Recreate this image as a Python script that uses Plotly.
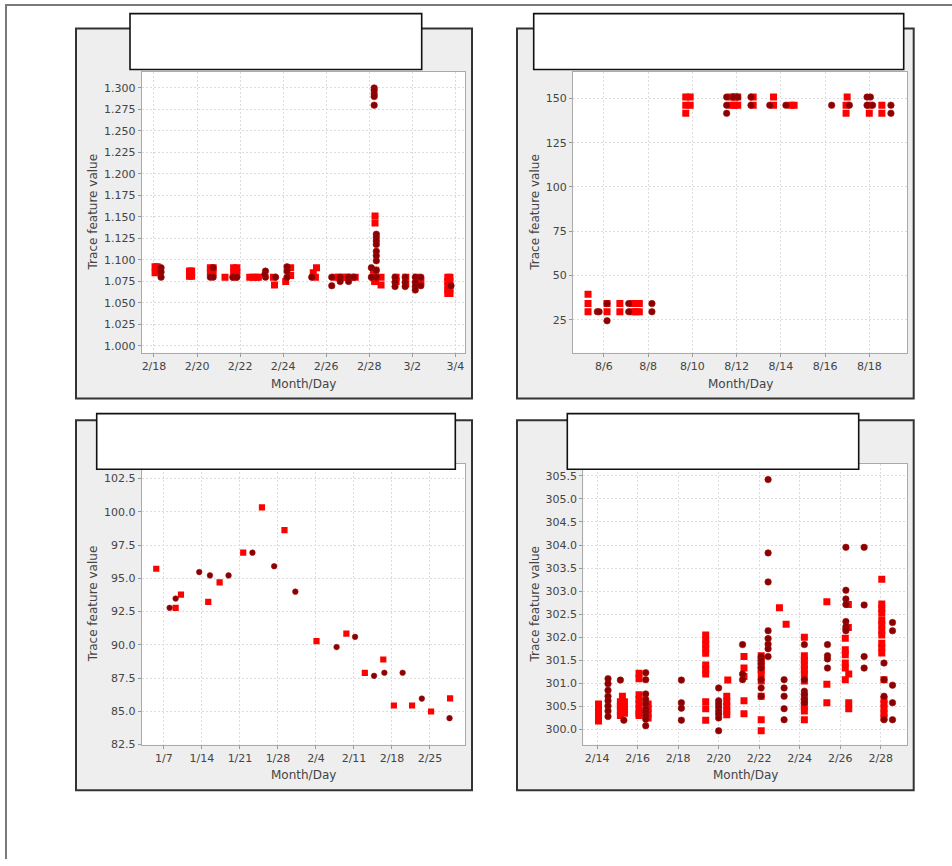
import pandas as pd
import plotly.graph_objects as go

W, H = 952, 866

# ---------------- DATA ----------------
# Panel 1 (top-left): day offsets from 2011-02-18
p1_base = "2011-02-18"
p1_sq_day = [0.05, 0.15, 0.05, 0.15, 1.65, 1.75, 1.65, 1.75, 2.62, 2.75, 2.62, 2.75, 3.3,
             3.7, 3.85, 3.7, 3.85, 3.75, 4.45, 4.6, 4.75, 4.85, 5.55, 5.6, 6.12, 6.35, 6.35,
             7.4, 7.55, 7.5, 8.45, 8.6, 8.8, 8.95, 9.15, 9.35,
             10.27, 10.27, 10.2, 10.3, 10.2, 10.3, 10.25, 10.55, 10.55,
             11.25, 11.25, 11.7, 11.7, 12.2, 12.4,
             13.65, 13.75, 13.65, 13.75, 13.65, 13.75, 13.65, 13.75, 13.65, 13.75]
p1_sq_val = [1.092, 1.092, 1.085, 1.086, 1.087, 1.087, 1.081, 1.081, 1.091, 1.091, 1.085, 1.085, 1.080,
             1.091, 1.091, 1.085, 1.085, 1.080, 1.080, 1.080, 1.080, 1.080, 1.080, 1.071, 1.075, 1.091, 1.082,
             1.085, 1.091, 1.080, 1.080, 1.080, 1.080, 1.080, 1.080, 1.080,
             1.151, 1.143, 1.088, 1.088, 1.080, 1.078, 1.075, 1.080, 1.071,
             1.080, 1.075, 1.080, 1.072, 1.080, 1.075,
             1.080, 1.080, 1.075, 1.075, 1.070, 1.070, 1.065, 1.065, 1.061, 1.061]
p1_ci_day = [0.33, 0.33, 0.33, 2.62, 2.75, 2.75, 3.66, 3.85, 5.18, 5.18, 5.15, 5.65,
             6.18, 6.18, 6.18, 7.33, 8.26, 8.26, 8.65, 8.65, 9.04, 9.04, 9.3,
             10.1, 10.1, 10.23, 10.23, 10.23, 10.23, 10.23,
             10.33, 10.33, 10.33, 10.33, 10.33, 10.33, 10.33, 10.33, 10.33,
             11.2, 11.2, 11.2, 11.67, 11.67, 11.67, 12.14, 12.14, 12.14, 12.14, 12.4, 12.4, 13.8]
p1_ci_val = [1.091, 1.086, 1.080, 1.080, 1.080, 1.091, 1.080, 1.080, 1.087, 1.080, 1.083, 1.080,
             1.092, 1.087, 1.080, 1.080, 1.080, 1.070, 1.080, 1.075, 1.080, 1.075, 1.080,
             1.091, 1.080, 1.300, 1.297, 1.293, 1.290, 1.280,
             1.130, 1.126, 1.122, 1.118, 1.110, 1.105, 1.099, 1.088, 1.080,
             1.080, 1.074, 1.069, 1.080, 1.074, 1.069, 1.080, 1.074, 1.069, 1.065, 1.080, 1.070, 1.070]

# Panel 2 (top-right): day offsets from 2011-08-06
p2_base = "2011-08-06"
p2_sq_day = [-0.72, -0.72, -0.72, 0.14, 0.14, 0.72, 0.72, 1.3, 1.3, 1.45, 1.45, 1.6, 1.6,
             3.7, 3.7, 3.7, 3.9, 3.9, 5.75, 5.75, 5.9, 5.9, 6.05, 6.05, 6.75, 6.75, 7.67, 7.67,
             8.45, 8.6, 11.0, 10.95, 10.95, 12.0, 12.0, 12.57, 12.57]
p2_sq_val = [39.4, 34.1, 29.5, 34.1, 29.5, 34.1, 29.5, 34.1, 29.5, 34.1, 29.5, 34.1, 29.5,
             150.8, 146.2, 141.6, 150.8, 146.2, 150.8, 146.2, 150.8, 146.2, 150.8, 146.2, 150.8, 146.2, 150.8, 146.2,
             146.2, 146.2, 150.8, 146.2, 141.6, 146.2, 141.6, 146.2, 141.6]
p2_ci_day = [-0.3, -0.22, 0.14, 0.14, 1.12, 1.12, 2.17, 2.17,
             5.55, 5.55, 5.55, 5.85, 6.05, 6.65, 6.65, 7.5, 8.23, 10.3, 11.1,
             11.9, 11.9, 12.05, 12.15, 12.98, 12.98]
p2_ci_val = [29.5, 29.5, 34.1, 24.4, 34.1, 29.5, 34.1, 29.5,
             150.8, 146.2, 141.6, 150.8, 150.8, 150.8, 146.2, 146.2, 146.2, 146.2, 146.2,
             150.8, 146.2, 150.8, 146.2, 146.2, 141.6]

# Panel 3 (bottom-left): day offsets from 2011-01-07
p3_base = "2011-01-07"
p3_sq_day = [-1.42, 2.15, 3.13, 8.16, 10.25, 14.6, 18.05, 22.2, 28.1, 33.6, 37.0, 40.4, 42.35, 45.7, 49.2, 52.7]
p3_sq_val = [95.72, 92.78, 93.78, 93.23, 94.7, 96.93, 100.34, 98.62, 90.28, 90.85, 87.9, 88.9, 85.44, 85.44, 84.99, 85.98]
p3_ci_day = [1.04, 2.15, 6.5, 8.47, 11.9, 16.3, 20.3, 24.2, 31.8, 35.2, 38.7, 40.6, 43.96, 47.5, 52.6]
p3_ci_val = [92.78, 93.48, 95.47, 95.22, 95.22, 96.93, 95.91, 94.0, 89.83, 90.6, 87.67, 87.9, 87.9, 85.96, 84.49]

# Panel 4 (bottom-right): day offsets from 2011-02-14
p4_base = "2011-02-14"
p4_sq_day = [0.07, 0.07, 0.07, 0.07, 0.07,
             1.25, 1.15, 1.15, 1.15, 1.15, 1.35, 1.35, 1.35, 1.35,
             2.07, 2.07, 2.07, 2.07, 2.07, 2.07, 2.07, 2.07,
             2.52, 2.52, 2.52, 2.52,
             5.36, 5.36, 5.36, 5.36, 5.36, 5.36, 5.36, 5.36, 5.36, 5.36, 5.36,
             6.45, 6.4, 6.4, 6.4, 6.4, 6.4,
             7.25, 7.25, 7.25, 7.25, 7.25,
             8.1, 8.1, 8.1, 8.1, 8.1, 8.1, 8.1, 8.1, 8.1,
             9.0, 9.33,
             10.23, 10.23, 10.23, 10.23, 10.23, 10.23, 10.23, 10.23, 10.23, 10.23, 10.23, 10.23,
             11.34, 11.34, 11.34,
             12.4, 12.4, 12.25, 12.25, 12.25, 12.25, 12.25, 12.25, 12.42, 12.42, 12.42,
             14.05, 14.05, 14.05, 14.05, 14.05, 14.05, 14.05, 14.05, 14.05, 14.05, 14.05,
             14.16, 14.16, 14.16, 14.16, 14.16, 14.16]
p4_sq_val = [300.55, 300.45, 300.35, 300.25, 300.18,
             300.72, 300.6, 300.5, 300.4, 300.3, 300.6, 300.5, 300.4, 300.35,
             301.22, 301.1, 300.75, 300.65, 300.55, 300.45, 300.35, 300.3,
             300.55, 300.45, 300.35, 300.25,
             302.05, 301.95, 301.85, 301.75, 301.65, 301.4, 301.3, 301.2, 300.6, 300.45, 300.2,
             301.07, 300.72, 300.6, 300.5, 300.4, 300.32,
             301.58, 301.33, 301.15, 300.62, 300.34,
             301.6, 301.5, 301.4, 301.3, 301.2, 301.05, 300.72, 300.21, 299.97,
             302.64, 302.28,
             302.0, 301.6, 301.5, 301.4, 301.3, 301.2, 301.05, 300.72, 300.6, 300.5, 300.4, 300.21,
             302.77, 300.98, 300.58,
             302.71, 302.21, 301.98, 301.73, 301.44, 301.33, 301.08, 301.62, 301.2, 300.58, 300.45,
             303.26, 302.72, 302.62, 302.52, 302.37, 302.27, 302.15, 302.05, 301.87, 301.77, 301.66,
             301.08, 300.65, 300.55, 300.45, 300.35, 300.26]
p4_ci_day = [0.54, 0.54, 0.54, 0.54, 0.54, 0.54, 0.54, 0.54,
             1.15, 1.32,
             2.4, 2.4, 2.4, 2.4, 2.4, 2.4, 2.4, 2.4, 2.4, 2.4,
             4.16, 4.16, 4.16, 4.16,
             6.0, 6.0, 6.0, 6.0, 6.0, 6.0, 6.0, 6.0,
             7.18, 7.18, 7.18,
             8.1, 8.1, 8.1, 8.1, 8.1, 8.1, 8.1,
             8.44, 8.44, 8.44, 8.44, 8.44, 8.44, 8.44, 8.44,
             9.23, 9.23, 9.23, 9.23, 9.23,
             10.23, 10.23, 10.23, 10.23, 10.23, 10.23,
             11.37, 11.37, 11.37, 11.37,
             12.28, 12.28, 12.28, 12.28, 12.28, 12.28, 12.28, 12.28,
             13.18, 13.18, 13.18, 13.18,
             14.16, 14.16, 14.16, 14.16,
             14.58, 14.58, 14.58, 14.58, 14.58]
p4_ci_val = [301.10, 300.99, 300.85, 300.72, 300.62, 300.51, 300.40, 300.28,
             301.07, 300.2,
             301.23, 301.08, 300.77, 300.65, 300.55, 300.44, 300.37, 300.29, 300.22, 300.08,
             301.07, 300.58, 300.46, 300.2,
             300.9, 300.62, 300.55, 300.48, 300.4, 300.33, 300.25, 299.97,
             301.84, 301.2, 301.08,
             301.58, 301.5, 301.42, 301.33, 301.08, 300.9, 300.72,
             305.42, 303.83, 303.2, 302.14, 301.97, 301.85, 301.75, 301.58,
             301.08, 300.9, 300.72, 300.45, 300.21,
             301.84, 301.08, 300.83, 300.76, 300.65, 300.58,
             301.84, 301.6, 301.53, 301.33,
             303.95, 303.02, 302.83, 302.71, 302.34, 302.23, 302.18, 302.14,
             303.95, 302.7, 301.58, 301.33,
             301.44, 301.08, 300.72, 300.21,
             302.32, 302.14, 300.96, 300.58, 300.21]

x_title = "Month/Day"
y_title = "Trace feature value"

# ---------------- STYLE / LAYOUT ----------------
SQ_COLOR = "#FF0000"
CI_COLOR = "#8B0000"
FONT = "DejaVu Sans"
TICK_COLOR = "#444444"


def dates(base, days):
    return pd.Timestamp(base) + pd.to_timedelta(days, unit="D")


def px_x(v):
    return v / W


def px_y(v):
    return 1 - v / H


panels = [
    dict(base=p1_base, sq=(p1_sq_day, p1_sq_val), ci=(p1_ci_day, p1_ci_val),
         plot=(141.7, 72.7, 465, 355.7), xr=(-0.57, 14.45), yr=(0.992, 1.3184),
         dt=2, ydt=0.025, yfmt=".3f", size=(7, 6.5),
         panel=(76, 28.7, 472, 401.7), title=(130, 13.7, 421.7, 70),
         xt=(303.3, 386.7), yt=(93, 214.2)),
    dict(base=p2_base, sq=(p2_sq_day, p2_sq_val), ci=(p2_ci_day, p2_ci_val),
         plot=(573, 72.7, 907.3, 355.7), xr=(-1.40, 13.72), yr=(6.3, 164.9),
         dt=2, ydt=25, yfmt="d", size=(7, 6.5),
         panel=(517, 28.7, 913.7, 401.7), title=(533.7, 13.7, 903.7, 70),
         xt=(740.2, 386.7), yt=(535.3, 214.2)),
    dict(base=p3_base, sq=(p3_sq_day, p3_sq_val), ci=(p3_ci_day, p3_ci_val),
         plot=(141.7, 467.7, 465, 750.7), xr=(-4.1, 55.45), yr=(82.5, 103.6),
         dt=7, ydt=2.5, yfmt=".1f", size=(6.2, 5.6),
         panel=(76, 423.7, 472, 796.7), title=(96.7, 417, 455.3, 473),
         xt=(303.3, 781.7), yt=(93, 609.2)),
    dict(base=p4_base, sq=(p4_sq_day, p4_sq_val), ci=(p4_ci_day, p4_ci_val),
         plot=(583.3, 467.7, 907.3, 750.7), xr=(-0.68, 15.31), yr=(299.67, 305.76),
         dt=2, ydt=0.5, yfmt=".1f", size=(7, 6.5),
         panel=(517, 423.7, 913.7, 796.7), title=(567.3, 417, 858.7, 473),
         xt=(745.3, 781.7), yt=(535.3, 609.2)),
]

fig = go.Figure()
shapes = []
annotations = []
layout = dict(
    width=W, height=H, margin=dict(l=0, r=0, t=0, b=0),
    paper_bgcolor="white", plot_bgcolor="white", showlegend=False,
    font=dict(family=FONT, size=11, color=TICK_COLOR),
)

# outer frame lines
shapes.append(dict(type="line", xref="paper", yref="paper", x0=px_x(5), x1=1.0,
                   y0=px_y(5), y1=px_y(5), line=dict(color="#7a7a7a", width=2), layer="below"))
shapes.append(dict(type="line", xref="paper", yref="paper", x0=px_x(6), x1=px_x(6),
                   y0=px_y(5), y1=0.0, line=dict(color="#7a7a7a", width=2), layer="below"))

for i, p in enumerate(panels, start=1):
    xa = "x" if i == 1 else f"x{i}"
    ya = "y" if i == 1 else f"y{i}"
    x0, y0, x1, y1 = p["plot"]
    base = pd.Timestamp(p["base"])

    # gray panel background
    a0, b0, a1, b1 = p["panel"]
    shapes.append(dict(type="rect", xref="paper", yref="paper", x0=px_x(a0), x1=px_x(a1),
                       y0=px_y(b1), y1=px_y(b0), fillcolor="#eeeeee",
                       line=dict(color="#333333", width=2), layer="below"))
    shapes.append(dict(type="rect", xref="paper", yref="paper", x0=px_x(x0), x1=px_x(x1),
                       y0=px_y(y1), y1=px_y(y0), fillcolor="white",
                       line=dict(width=0), layer="below"))
    # title box
    t0, u0, t1, u1 = p["title"]
    shapes.append(dict(type="rect", xref="paper", yref="paper", x0=px_x(t0), x1=px_x(t1),
                       y0=px_y(u1), y1=px_y(u0), fillcolor="white",
                       line=dict(color="#111111", width=1.6), layer="above"))

    sd, sv = p["sq"]
    cd, cv = p["ci"]
    fig.add_trace(go.Scatter(x=dates(p["base"], sd), y=sv, mode="markers", xaxis=xa, yaxis=ya,
                             marker=dict(symbol="square", size=p["size"][0], color=SQ_COLOR,
                                         line=dict(width=0))))
    fig.add_trace(go.Scatter(x=dates(p["base"], cd), y=cv, mode="markers", xaxis=xa, yaxis=ya,
                             marker=dict(symbol="circle", size=p["size"][1], color=CI_COLOR,
                                         line=dict(width=0.6, color="#a01010"))))

    common = dict(showline=True, mirror=True, linecolor="#aaaaaa", linewidth=1,
                  showgrid=True, gridcolor="#dcdcdc", griddash="2px,2px", gridwidth=1,
                  ticks="outside", ticklen=3, tickcolor="#999999", zeroline=False,
                  tickfont=dict(family=FONT, size=11, color=TICK_COLOR), fixedrange=True)
    layout[f"xaxis{'' if i == 1 else i}"] = dict(
        common, type="date", domain=[px_x(x0), px_x(x1)], anchor=ya,
        range=[base + pd.Timedelta(days=p["xr"][0]), base + pd.Timedelta(days=p["xr"][1])],
        tick0=base, dtick=p["dt"] * 86400000, tickformat="%-m/%-d")
    layout[f"yaxis{'' if i == 1 else i}"] = dict(
        common, domain=[px_y(y1), px_y(y0)], anchor=xa, range=list(p["yr"]),
        tick0=0, dtick=p["ydt"], tickformat=p["yfmt"])

    annotations.append(dict(text=x_title, xref="paper", yref="paper", x=px_x(p["xt"][0]),
                            y=px_y(p["xt"][1]), xanchor="center", yanchor="middle", showarrow=False,
                            font=dict(family=FONT, size=12, color=TICK_COLOR)))
    annotations.append(dict(text=y_title, xref="paper", yref="paper", x=px_x(p["yt"][0]),
                            y=px_y(p["yt"][1]), xanchor="center", yanchor="middle", showarrow=False,
                            textangle=-90, font=dict(family=FONT, size=12, color=TICK_COLOR)))

layout["shapes"] = shapes
layout["annotations"] = annotations
fig.update_layout(**layout)
fig.write_html("out.html", config={"displayModeBar": False},
               post_script="document.body.style.margin='0px';")
